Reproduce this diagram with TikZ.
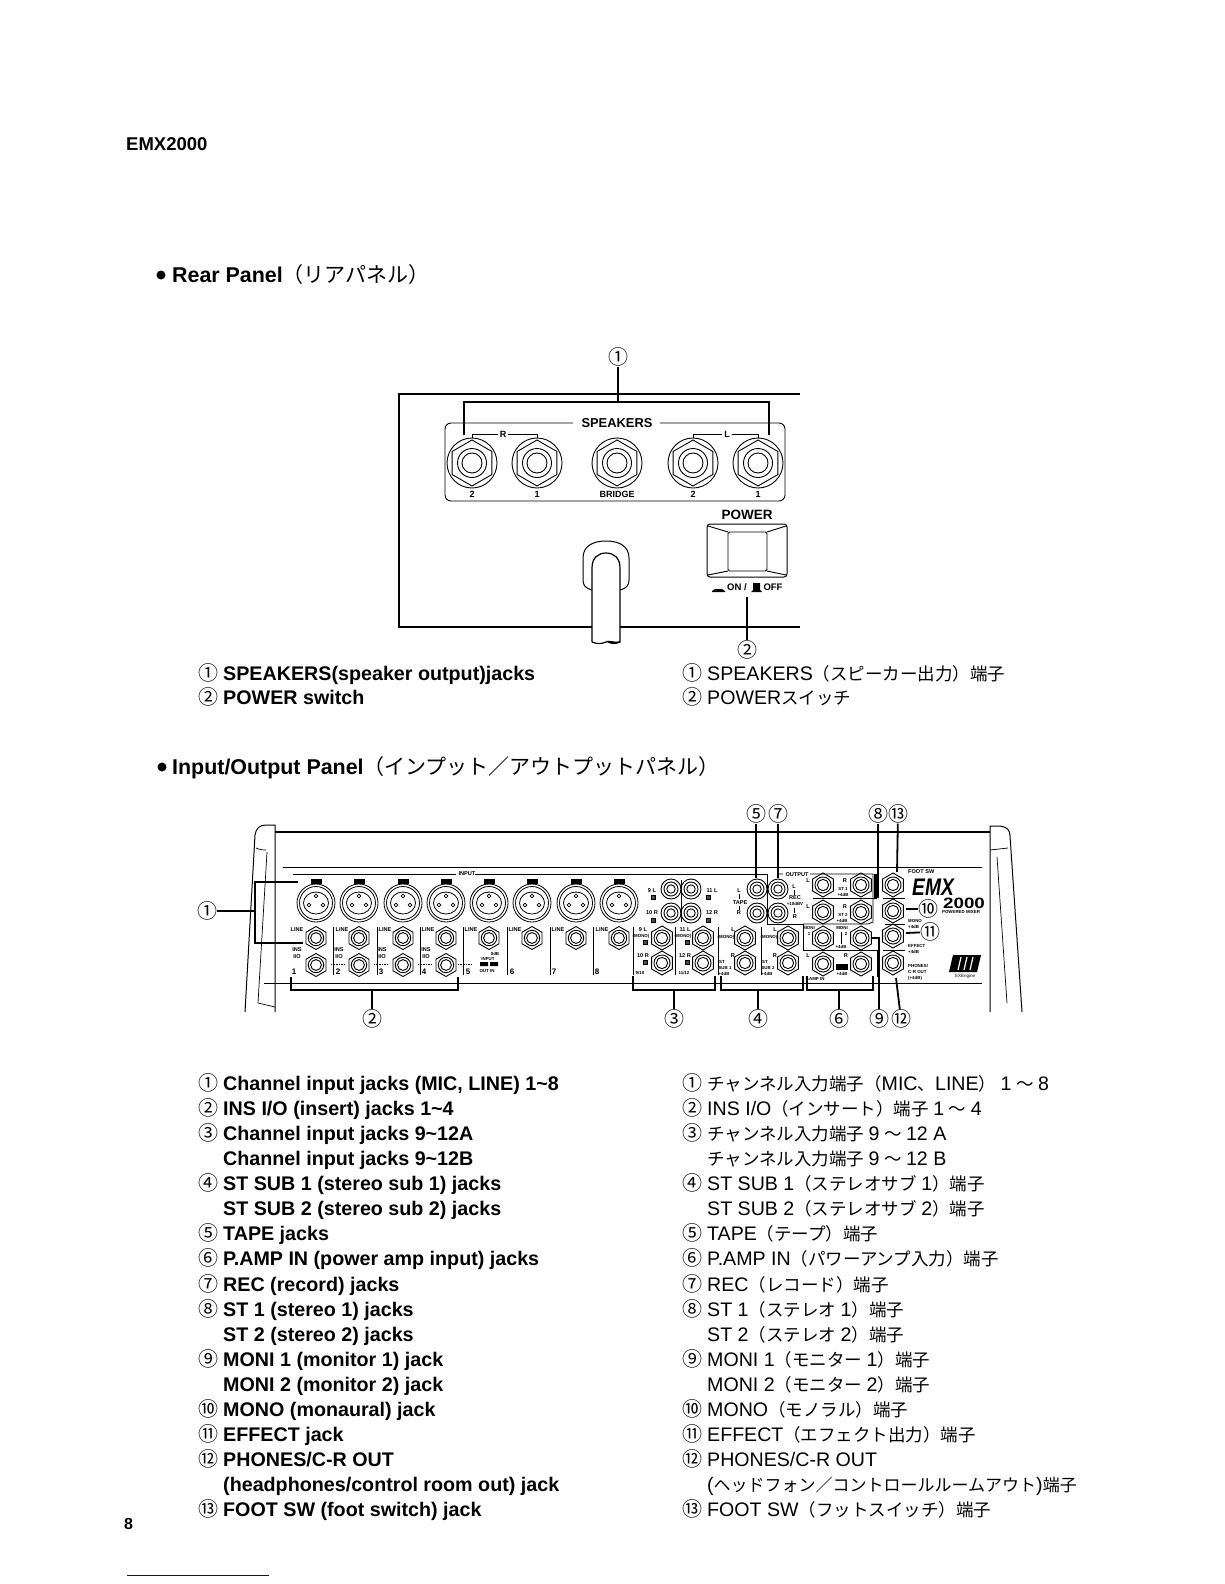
\documentclass[tikz,border=0pt]{standalone}
\usepackage{fontspec}
\setmainfont{Liberation Sans}
\newfontfamily\jpfont{Noto Sans CJK JP}
\usepackage{xcolor}
\usetikzlibrary{calc}

\newcommand\jp[1]{{\jpfont\mdseries\fontsize{17.5}{20}\selectfont #1}}
\newcommand\jps[1]{{\jpfont\mdseries\fontsize{17}{20}\selectfont #1}}
\newcommand\jptitle[1]{{\jpfont\mdseries\fontsize{21}{24}\selectfont #1}}
\newcommand\sk{\hspace{4.5pt}}
\tikzset{
  cnum/.style={inner sep=0pt,font=\jpfont\fontsize{20}{20}\selectfont},
  bodyen/.style={anchor=base west,inner sep=0pt,font=\fontsize{19.7}{24}\selectfont\bfseries},
  bodyjp/.style={anchor=base west,inner sep=0pt,font=\fontsize{19.6}{24}\selectfont},
  title/.style={anchor=base west,inner sep=0pt,font=\fontsize{21.4}{24}\selectfont\bfseries},
  plabel/.style={inner sep=0pt,font=\fontsize{5.6}{6}\selectfont\bfseries},
  plabels/.style={inner sep=0pt,font=\fontsize{4.4}{5}\selectfont\bfseries},
  spklabel/.style={inner sep=0pt,font=\fontsize{9}{10}\selectfont\bfseries},
  callout/.style={line width=1.8pt},
  thinline/.style={line width=0.8pt},
  panelline/.style={line width=1.5pt}
}
\newcommand\engrow[3]{\node[cnum,anchor=base] (enn#1) at (208,#1) {#2}; \node[bodyen] (en#1) at (223,#1) {#3};}
\newcommand\engnext[2]{\node[bodyen] (en#1) at (223,#1) {#2};}
\newcommand\jprow[3]{\node[cnum,anchor=base] (jpn#1) at (692,#1) {#2}; \node[bodyjp] (jp#1) at (707,#1) {#3};}
\newcommand\jpnext[2]{\node[bodyjp] (jp#1) at (707,#1) {#2};}
\newcommand\plbl[3]{\node[plabel] (p#1-#2) at (#1,#2) {#3};}
\newcommand\plbs[3]{\node[plabels] (p#1-#2) at (#1,#2) {#3};}
\newcommand\hexjack[3][12]{\draw[line width=0.9pt] (#2,#3) +(90:#1) -- +(30:#1) -- +(-30:#1) -- +(-90:#1) -- +(-150:#1) -- +(150:#1) -- cycle;
  \draw[line width=0.9pt] (#2,#3) circle[radius=#1*0.67pt] circle[radius=#1*0.47pt];}
\newcommand\spkjack[2]{\draw[line width=0.9pt] (#1,#2) circle[radius=25pt] +(90:23) -- +(30:23) -- +(-30:23) -- +(-90:23) -- +(-150:23) -- +(150:23) -- cycle;
  \draw[line width=0.9pt] (#1,#2) circle[radius=14.5pt] circle[radius=10pt];}
\newcommand\rcajack[2]{\draw[line width=0.9pt] (#1,#2) circle[radius=10pt] circle[radius=7pt] circle[radius=4.2pt];}
\newcommand\xlrjack[2]{\draw[line width=0.8pt] (#1,#2) circle[radius=19pt] circle[radius=16.5pt];
  \draw[line width=0.8pt] (#1,#2) ellipse[x radius=12.5pt,y radius=11pt];
  \draw[line width=0.7pt] ($(#1,#2)+(0,-7)$) circle[radius=1.8pt] ($(#1,#2)+(-7,2)$) circle[radius=1.8pt] ($(#1,#2)+(7,2)$) circle[radius=1.8pt];
  \fill ($(#1,#2)+(-5.5,-24.5)$) rectangle ++(11,5);}
\newcommand\smallsq[2]{\draw[fill=black!70,line width=0.4pt] ($(#1,#2)+(-2,-2)$) rectangle ++(4,4);}

\begin{document}
\begin{tikzpicture}[x=1pt,y=-1pt]
\useasboundingbox (0,0) rectangle (1224,1584);
\fill[white] (0,0) rectangle (1224,1584);

\node[anchor=base west,inner sep=0pt,font=\fontsize{18.5}{20}\selectfont\bfseries] (model) at (126,150) {EMX2000};
\node[anchor=base west,inner sep=0pt,font=\fontsize{16}{18}\selectfont\bfseries] (pageno) at (124,1529) {8};
\draw[blue!85!black,line width=1pt] (127,1575) -- (269,1575);

\fill (161,275) circle[radius=4.5pt];
\node[title] (rear) at (172,282) {Rear Panel\jptitle{（リアパネル）}};
\fill (162,767) circle[radius=4.5pt];
\node[title] (iopanel) at (172,774) {Input/Output Panel\jptitle{（インプット／アウトプットパネル）}};

\draw[panelline] (800,394) -- (399,394) -- (399,627) -- (800,627);
\draw[line width=0.9pt,rounded corners=6pt] (573,423) -- (445,423) -- (445,501) -- (785,501) -- (785,423) -- (660,423);
\node[inner sep=0pt,font=\fontsize{12.9}{14}\selectfont\bfseries] (spk) at (617,423) {SPEAKERS};
\foreach \x in {472,537,617,693,758} {\spkjack{\x}{463}}
\draw[line width=0.8pt] (472,438) -- (472,434) -- (498,434) (508,434) -- (537,434) -- (537,438);
\draw[line width=0.8pt] (693,438) -- (693,434) -- (722,434) (732,434) -- (758,434) -- (758,438);
\node[spklabel] (spkr) at (503,434) {R};
\node[spklabel] (spkl) at (727,434) {L};
\node[spklabel] (lr2) at (472,494) {2};
\node[spklabel] (lr1) at (537,494) {1};
\node[spklabel] (lbr) at (617,494) {BRIDGE};
\node[spklabel] (ll2) at (693,494) {2};
\node[spklabel] (ll1) at (758,494) {1};
\node[cnum] (a1) at (618,357) {①};
\coordinate (spktop) at (618,402);
\coordinate (spkL) at (464,435);
\coordinate (spkR) at (769,435);
\draw[callout] (a1) -- (spktop);
\draw[callout] (spkL) -- ++(0,-33) -- ++(305,0) -- (spkR);

\node[inner sep=0pt,font=\fontsize{13.5}{14}\selectfont\bfseries] (pow) at (747,515) {POWER};
\draw[line width=1pt,rounded corners=3pt] (707,524) rectangle (787,577);
\draw[line width=0.9pt,rounded corners=1.5pt] (728,532) rectangle (767,571);
\draw[line width=0.9pt] (708,526) -- (728,532) (786,526) -- (767,532) (708,575) -- (728,571) (786,575) -- (767,571);
\fill (712,591) -- (715,589) -- (722,589) -- (725,591) -- (725,592) -- (712,592) -- cycle;
\fill (751,592) -- (753,590) -- (753,583) -- (760,583) -- (760,590) -- (762,592) -- cycle;
\node[spklabel,font=\fontsize{9.5}{10}\selectfont\bfseries] (onlbl) at (737,587) {ON /};
\node[spklabel,font=\fontsize{9.5}{10}\selectfont\bfseries] (offlbl) at (773,587) {OFF};
\node[cnum] (a2) at (747,650) {②};
\coordinate (powlow) at (747,597);
\draw[line width=1.2pt] (powlow) -- (a2);

\draw[line width=1pt,fill=white] (592,590) .. controls (585,588) and (583,585) .. (583,580) -- (583,558) .. controls (583,546) and (593,541) .. (606,541) .. controls (619,541) and (629,546) .. (629,558) -- (629,580) .. controls (629,585) and (627,588) .. (620,590);
\draw[line width=1.2pt,fill=white] (592,642) -- (592,568) .. controls (592,558) and (598,553) .. (606,553) .. controls (614,553) and (620,558) .. (620,568) -- (620,642) .. controls (615,645) and (610,640) .. (606,642) .. controls (602,644) and (596,644) .. (592,642);
\fill (606,641) .. controls (610,640) and (616,643) .. (620,641) -- (620,642) .. controls (616,645) and (610,645) .. (606,641);

\engrow{680}{①}{SPEAKERS(speaker output)jacks}
\engrow{704}{②}{POWER switch}
\jprow{680}{①}{SPEAKERS\jp{（スピーカー出力）端子}}
\jprow{704}{②}{POWER\jp{スイッチ}}

\draw[line width=1pt] (245,1012) -- (255,835) .. controls (256,828) and (260,825) .. (266,825) -- (275,825) -- (275,1012);
\draw[line width=0.7pt] (256,848) .. controls (260,850) and (264,850) .. (266,850) (267,852) -- (258,1003) -- (275,1007);
\draw[line width=1pt] (990,1012) -- (990,826) -- (1000,826) .. controls (1007,827) and (1010,830) .. (1010,836) -- (1022,1012);
\draw[line width=0.7pt] (990,850) -- (1008,848) (997,857) -- (1007,1003);
\draw[line width=1.3pt] (275,832) -- (990,832);
\draw[line width=1pt] (283,867) -- (982,867);
\draw[line width=1pt] (264,983) -- (982,983);
\draw[line width=0.8pt] (293,874) -- (456,874) (475,874) -- (767,874) -- (767,924) -- (803,924) -- (803,950) -- (877,950) -- (877,977);
\node[plabel] (inputlbl) at (467,874) {INPUT};

\foreach \x in {316,359,403,446,489,532,576,619} {\xlrjack{\x}{903}}
\foreach \x in {316,359,403,446,489,532,576,619} {\hexjack[11.5]{\x}{938}}
\foreach \x in {316,359,403,446} {\hexjack[11.5]{\x}{965}}
\foreach \x in {333,377,420,463,507,550,593} {\draw[line width=0.7pt] (\x,927) -- (\x,975);}
\foreach \x/\n in {297/1,342/2,385/3,428/4} {\node[plabel] (line\n) at (\x,930) {LINE};}
\foreach \x/\n in {471/5,515/6,558/7,602/8} {\node[plabel] (line\n) at (\x,930) {LINE};}
\foreach \x/\n in {297/1,339/2,382/3,426/4} {\node[plabel] (ins\n) at (\x,950) {INS}; \node[plabel] (io\n) at (\x,957) {I/O};}
\foreach \x/\n in {294/1,338/2,381/3,424/4,468/5,512/6,554/7,597/8} {\node[plabel,font=\fontsize{8}{8}\selectfont\bfseries] (num\n) at (\x,972) {\n};}
\draw[densely dotted,line width=0.6pt] (331,964) -- (345,964) (374,964) -- (388,964) (418,964) -- (432,964) (458,964) -- (472,964);
\plbs{495}{954}{0dB}
\plbs{488}{959}{INPUT}
\fill (480,962) rectangle (488,966) (490,962) rectangle (498,966);
\plbs{487}{971}{OUT IN}

\node[cnum] (b1) at (207,911) {①};
\coordinate (ch1top) at (298,882);
\coordinate (ch1low) at (303,943);
\draw[callout] (b1) -- (255,911);
\draw[line width=1.4pt] (ch1top) -- (255,882) -- (255,943) -- (ch1low);
\node[cnum] (b2) at (372,1019) {②};
\coordinate (insL) at (291,977);
\coordinate (insR) at (458,977);
\draw[callout] (b2) -- (372,990);
\draw[line width=1.4pt] (insL) -- (291,990) -- (458,990) -- (insR);

\rcajack{671}{889} \rcajack{691}{889} \rcajack{671}{913} \rcajack{691}{913}
\draw[line width=0.7pt] (681,880) -- (681,922);
\plbl{652}{891}{9 L} \smallsq{653}{897} \plbl{652}{913}{10 R} \smallsq{653}{920}
\plbl{712}{891}{11 L} \smallsq{708}{897} \plbl{712}{913}{12 R} \smallsq{708}{920}
\hexjack{662}{938} \hexjack{662}{963} \hexjack{703}{938} \hexjack{703}{963}
\hexjack{745}{938} \hexjack{745}{963} \hexjack{788}{938} \hexjack{788}{963}
\foreach \x in {633,675,718,761} {\draw[line width=0.7pt] (\x,927) -- (\x,975);}
\plbl{643}{930}{9 L} \plbs{641}{936}{(MONO)} \smallsq{645}{942} \plbl{643}{956}{10 R} \smallsq{645}{962} \plbs{640}{973}{9/10}
\plbl{685}{930}{11 L} \plbs{683}{936}{(MONO)} \smallsq{687}{942} \plbl{685}{956}{12 R} \smallsq{687}{962} \plbs{684}{973}{11/12}
\plbl{733}{930}{L} \plbs{726}{937}{(MONO)} \plbl{733}{956}{R} \plbs{722}{962}{ST} \plbs{725}{968}{SUB 1} \plbs{724}{974}{+4dB}
\plbl{775}{930}{L} \plbs{769}{937}{(MONO)} \plbl{775}{956}{R} \plbs{765}{962}{ST} \plbs{768}{968}{SUB 2} \plbs{767}{974}{+4dB}

\rcajack{757}{889} \rcajack{757}{913} \rcajack{778}{889} \rcajack{778}{913}
\plbl{739}{891}{L} \plbl{740}{903}{TAPE} \plbl{739}{913}{R}
\plbl{794}{887}{L} \plbl{795}{898}{REC} \plbs{795}{904}{+10dBV} \plbl{795}{917}{R}
\draw[line width=0.6pt] (739,894) -- (739,899) (739,906) -- (739,910) (794,890) -- (794,895) (794,908) -- (794,913);

\hexjack{823}{885} \hexjack{861}{885} \hexjack{823}{912} \hexjack{861}{912}
\hexjack{823}{938} \hexjack{861}{938} \hexjack{823}{964} \hexjack{861}{964}
\plbl{808}{881}{L} \plbl{845}{881}{R} \plbs{843}{889}{ST 1} \plbs{843}{895}{+4dB}
\plbl{808}{907}{L} \plbl{845}{907}{R} \plbs{843}{915}{ST 2} \plbs{842}{921}{+4dB}
\plbs{809}{928}{MONI} \plbs{809}{934}{1} \plbs{842}{928}{MONI} \plbs{846}{934}{2} \plbs{841}{947}{+4dB}
\plbl{808}{956}{L} \plbl{846}{956}{R} \plbs{842}{974}{+4dB} \plbs{815}{979}{P.AMP IN}
\draw[line width=0.6pt] (841,932) -- (841,944);
\fill (836,964) rectangle (848,970);
\node[plabel] (outlbl2) at (797,875) {OUTPUT};
\draw[line width=0.8pt] (777,874) -- (783,874) (810,874) -- (873,874) -- (873,922) -- (868,924) -- (803,924);
\draw[line width=0.9pt] (813,898) -- (877,898);
\fill (874,874) rectangle (878,898);

\hexjack{893}{885} \hexjack{893}{911} \hexjack{893}{936} \hexjack{893}{963}
\draw[line width=0.7pt] (883,898) -- (905,898) (885,924) -- (905,924) (883,950) -- (905,950);
\node[plabel,anchor=west] (foot) at (908,872) {FOOT SW};
\node[plabels,anchor=west] (monol) at (908,921) {MONO};
\node[plabels,anchor=west] (monod) at (908,927) {+4dB};
\node[plabels,anchor=west] (effl) at (908,946) {EFFECT};
\node[plabels,anchor=west] (effd) at (908,952) {+4dB};
\node[plabels,anchor=west] (phl) at (908,966) {PHONES/};
\node[plabels,anchor=west] (crl) at (908,972) {C-R OUT};
\node[plabels,anchor=west] (phd) at (908,978) {(+4dB)};
\node[inner sep=0pt,font=\fontsize{24}{24}\selectfont\bfseries\itshape] (logoa) at (933,887) {\scalebox{.8}[1]{EMX}};
\node[inner sep=0pt,font=\fontsize{15}{15}\selectfont\bfseries] (logob) at (964,903) {\scalebox{1.25}[1]{2000}};
\node[plabels] (logoc) at (961,912) {POWERED MIXER};
\fill (953,955) -- (981,955) -- (977,972) -- (949,972) -- cycle;
\draw[white,line width=1.2pt] (961,957) -- (958,970) (967,957) -- (964,970) (973,957) -- (970,970);
\node[plabels,font=\fontsize{4.5}{5}\selectfont] (logod) at (965,976) {EXEngine};

\node[cnum] (c5) at (756,814) {⑤};
\node[cnum] (c7) at (778,814) {⑦};
\node[cnum] (c8) at (878,814) {⑧};
\node[cnum] (c13) at (898,814) {⑬};
\coordinate (tapetop) at (756,878);
\coordinate (rectop) at (778,878);
\coordinate (sttop) at (878,898);
\coordinate (foottop) at (897,872);
\draw[callout] (c5) -- (tapetop);
\draw[callout] (c7) -- (rectop);
\draw[callout] (c8) -- (sttop);
\draw[callout] (c13) -- (foottop);
\node[cnum] (c10) at (928,909) {⑩};
\node[cnum] (c11) at (930,932) {⑪};
\coordinate (monoend) at (906,909);
\coordinate (effend) at (906,933);
\draw[callout] (monoend) -- (c10);
\draw[callout] (effend) -- (c11);

\node[cnum] (c3) at (674,1019) {③};
\node[cnum] (c4) at (758,1019) {④};
\node[cnum] (c6) at (839,1019) {⑥};
\node[cnum] (c9) at (879,1019) {⑨};
\node[cnum] (c12) at (901,1019) {⑫};
\draw[line width=1.4pt] (633,976) -- (633,990) -- (715,990) -- (715,976);
\draw[line width=1.4pt] (721,976) -- (721,990) -- (803,990) -- (803,976);
\draw[line width=1.4pt] (807,976) -- (807,990) -- (873,990) -- (873,976);
\coordinate (b3) at (674,990);
\coordinate (b4) at (758,990);
\coordinate (b6) at (839,990);
\coordinate (moniend) at (872,938);
\coordinate (phend) at (896,978);
\draw[callout] (c3) -- (b3);
\draw[callout] (c4) -- (b4);
\draw[callout] (c6) -- (b6);
\draw[callout] (c9) -- (879,938) -- (moniend);
\draw[callout] (c12) -- (phend);

\engrow{1090}{①}{Channel input jacks (MIC, LINE) 1\textasciitilde 8}
\engrow{1115}{②}{INS I/O (insert) jacks 1\textasciitilde 4}
\engrow{1140}{③}{Channel input jacks 9\textasciitilde 12A}
\engnext{1165}{Channel input jacks 9\textasciitilde 12B}
\engrow{1190}{④}{ST SUB 1 (stereo sub 1) jacks}
\engnext{1215}{ST SUB 2 (stereo sub 2) jacks}
\engrow{1240}{⑤}{TAPE jacks}
\engrow{1265}{⑥}{P.AMP IN (power amp input) jacks}
\engrow{1291}{⑦}{REC (record) jacks}
\engrow{1316}{⑧}{ST 1 (stereo 1) jacks}
\engnext{1341}{ST 2 (stereo 2) jacks}
\engrow{1366}{⑨}{MONI 1 (monitor 1) jack}
\engnext{1391}{MONI 2 (monitor 2) jack}
\engrow{1416}{⑩}{MONO (monaural) jack}
\engrow{1441}{⑪}{EFFECT jack}
\engrow{1466}{⑫}{PHONES/C-R OUT}
\engnext{1491}{(headphones/control room out) jack}
\engrow{1516}{⑬}{FOOT SW (foot switch) jack}

\jprow{1090}{①}{\jp{チャンネル入力端子（}MIC\jp{、}LINE\jp{）}\sk 1\sk\jp{～}\sk 8}
\jprow{1115}{②}{INS I/O\jp{（インサート）端子}\sk 1\sk\jp{～}\sk 4}
\jprow{1140}{③}{\jp{チャンネル入力端子}\sk 9\sk\jp{～}\sk 12 A}
\jpnext{1165}{\jp{チャンネル入力端子}\sk 9\sk\jp{～}\sk 12 B}
\jprow{1190}{④}{ST SUB 1\jp{（ステレオサブ}\sk 1\jp{）端子}}
\jpnext{1215}{ST SUB 2\jp{（ステレオサブ}\sk 2\jp{）端子}}
\jprow{1240}{⑤}{TAPE\jp{（テープ）端子}}
\jprow{1265}{⑥}{P.AMP IN\jp{（パワーアンプ入力）端子}}
\jprow{1291}{⑦}{REC\jp{（レコード）端子}}
\jprow{1316}{⑧}{ST 1\jp{（ステレオ}\sk 1\jp{）端子}}
\jpnext{1341}{ST 2\jp{（ステレオ}\sk 2\jp{）端子}}
\jprow{1366}{⑨}{MONI 1\jp{（モニター}\sk 1\jp{）端子}}
\jpnext{1391}{MONI 2\jp{（モニター}\sk 2\jp{）端子}}
\jprow{1416}{⑩}{MONO\jp{（モノラル）端子}}
\jprow{1441}{⑪}{EFFECT\jp{（エフェクト出力）端子}}
\jprow{1466}{⑫}{PHONES/C-R OUT}
\jpnext{1491}{(\jps{ヘッドフォン／コントロールルームアウト})\jps{端子}}
\jprow{1516}{⑬}{FOOT SW\jp{（フットスイッチ）端子}}
\end{tikzpicture}
\end{document}
